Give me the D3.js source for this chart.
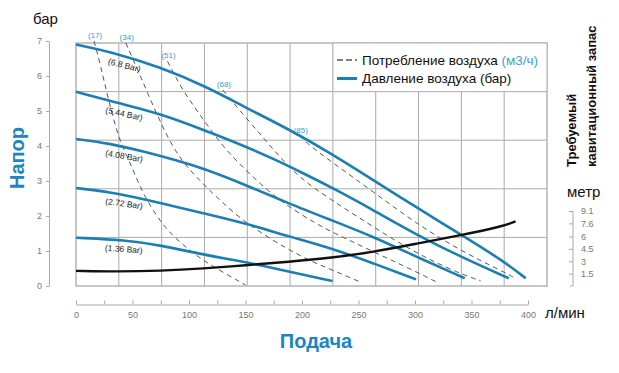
<!DOCTYPE html>
<html>
<head>
<meta charset="utf-8">
<script src="https://cdn.jsdelivr.net/npm/d3@7"></script>
<style>
  body { margin: 0; background: #fff; }
  svg { font-family: 'Liberation Sans', Arial, sans-serif; }
  .axis text { fill: #777; font-size: 9px; }
  .axis path, .axis line { stroke: #aaa; }
</style>
</head>
<body>
<div id="chart"></div>
<script>
// datos: [caudal l/min, valor]
var bar68 = [[0,6.9],[30,6.7],[75,6.25],[115,5.7],[150,5.1],[190,4.45],[225,3.8],[262,3.05],[301,2.25],[339,1.5],[378,0.72],[398,0.22]];
var bar544 = [[0,5.55],[38,5.22],[74,4.93],[113,4.46],[147,4.03],[177,3.6],[198,3.27],[226,2.82],[263,2.17],[301,1.47],[339,0.86],[383,0.22]];
var bar408 = [[0,4.2],[29,4.08],[60,3.84],[88,3.6],[113,3.36],[150,2.89],[188,2.36],[226,1.88],[263,1.41],[301,0.84],[344,0.22]];
var bar272 = [[0,2.8],[38,2.65],[74,2.37],[113,2.08],[150,1.79],[188,1.42],[226,1.08],[263,0.65],[301,0.19]];
var bar136 = [[0,1.38],[44,1.31],[74,1.17],[113,0.89],[150,0.69],[188,0.41],[227,0.14]];
var pressureSeries = [bar68, bar544, bar408, bar272, bar136];
var pressureLabels = ['(6.8 Bar)', '(5.44 Bar)', '(4.08 Bar)', '(2.72 Bar)', '(1.36 Bar)'];

// consumo de aire (m3/h)
var air17 = [[16,7.0],[22,6.27],[28,5.41],[38,4.17],[47,3.6],[60,2.55],[79.5,1.6],[100,1.03],[116,0.65],[150,0.03]];
var air34 = [[44,6.95],[56,6.08],[71,4.93],[88,3.79],[106,3.12],[127,2.46],[150,1.79],[188,1.03],[212,0.65],[226,0.47],[251,0.12]];
var air51 = [[81,6.42],[94,5.6],[113,4.74],[130,3.98],[150,3.31],[171,2.69],[188,2.27],[212,1.79],[226,1.55],[263,0.98],[301,0.41],[318.6,0.12]];
var air68 = [[130,5.6],[147,4.93],[165,4.27],[180,3.69],[200,3.03],[226,2.46],[263,1.69],[301,0.93],[339,0.36],[358,0.15]];
var air85 = [[198,4.3],[204,4.08],[226,3.55],[263,2.69],[301,1.79],[339,1.03],[378,0.41],[389,0.22]];
var airSeries = [air17, air34, air51, air68, air85];
var airLabels = ['(17)', '(34)', '(51)', '(68)', '(85)'];

// NPSH requerido (metros)
var npsh = [[0,1.84],[37,1.74],[74,1.84],[113,2.12],[150,2.52],[188,2.94],[226,3.42],[263,4.12],[301,5.13],[339,6.12],[378,7.25],[389,7.84]];

var xTicks = d3.range(0, 401, 25);
var yTicks = [0,1,2,3,4,5,6,7];
var mTicks = [1.5, 3, 4.5, 6, 7.6, 9.1];

var width = 619, height = 373;
var blue = '#1b7fb5';
var titleBlue = '#1a86c4';

var svg = d3.select('#chart').append('svg')
    .attr('width', width)
    .attr('height', height);

// escalas
var x = d3.scaleLinear().domain([0, 400]).range([76, 528]);
var y = d3.scaleLinear().domain([0, 7]).range([286, 41]);
var yM = d3.scaleLinear().domain([0, 9.1]).range([286, 211]);

var plotL = 76, plotR = 547, plotT = 43, plotB = 286;
var gx = d3.scaleLinear().domain([0, 11]).range([plotL, plotR]);
var gy = d3.scaleLinear().domain([0, 5]).range([plotB, plotT]);

// rejilla
svg.append('g').selectAll('line.v')
    .data(d3.range(1, 11))
    .enter().append('line')
    .attr('x1', d => gx(d)).attr('x2', d => gx(d))
    .attr('y1', plotT).attr('y2', plotB)
    .attr('stroke', '#aaa').attr('stroke-width', 1);

svg.append('g').selectAll('line.h')
    .data(d3.range(1, 5))
    .enter().append('line')
    .attr('x1', plotL).attr('x2', plotR)
    .attr('y1', d => gy(d)).attr('y2', d => gy(d))
    .attr('stroke', '#aaa').attr('stroke-width', 1);

svg.append('rect')
    .attr('x', plotL).attr('y', plotT)
    .attr('width', plotR - plotL).attr('height', plotB - plotT)
    .attr('fill', 'none').attr('stroke', '#b4b4b4').attr('stroke-width', 1.5);

// ejes
svg.append('g')
    .attr('class', 'axis')
    .attr('transform', 'translate(49,0)')
    .call(d3.axisLeft(y).tickValues(yTicks).tickFormat(d3.format('d'))
        .tickSizeInner(3).tickSizeOuter(0).tickPadding(4));

svg.append('g')
    .attr('class', 'axis')
    .attr('transform', 'translate(0,304.5)')
    .call(d3.axisBottom(x).tickValues(xTicks).tickSizeInner(-4).tickSizeOuter(0).tickPadding(7)
        .tickFormat(d => d % 50 === 0 ? d : ''));

svg.append('g')
    .attr('class', 'axis')
    .attr('transform', 'translate(573,0)')
    .call(d3.axisRight(yM).tickValues(mTicks).tickFormat(d => String(d))
        .tickSizeInner(-4).tickSizeOuter(0).tickPadding(8))
    .call(g => g.select('.domain').attr('d', 'M0,' + yM(9.1) + 'V' + yM(0) + 'h-3'));

// curva suavizada (los puntos se leyeron a mano)
var line = d3.line()
    .x(d => x(d[0]))
    .y(d => y(d[1]))
    .curve(d3.curveBasis);

// consumo de aire
svg.append('g').selectAll('path')
    .data(airSeries)
    .enter().append('path')
    .attr('d', line)
    .attr('fill', 'none')
    .attr('stroke', '#555')
    .attr('stroke-width', 1)
    .attr('stroke-dasharray', '5,4');

svg.append('g').selectAll('text')
    .data(airSeries)
    .enter().append('text')
    .attr('x', d => x(d[0][0]) + 1)
    .attr('y', d => y(d[0][1]) - 3)
    .attr('text-anchor', 'middle')
    .attr('fill', '#3a9bd2')
    .style('font-size', '8px')
    .text((d, i) => airLabels[i]);

// presion de aire
svg.append('g').selectAll('path')
    .data(pressureSeries)
    .enter().append('path')
    .attr('d', line)
    .attr('fill', 'none')
    .attr('stroke', blue)
    .attr('stroke-width', 2.6);

// NPSH
var lineM = d3.line()
    .x(d => x(d[0]))
    .y(d => yM(d[1]))
    .curve(d3.curveBasis);

svg.append('path')
    .datum(npsh)
    .attr('d', lineM)
    .attr('fill', 'none')
    .attr('stroke', '#111')
    .attr('stroke-width', 2.4);

// etiquetas de presion
var labelFlow = 43;
var labelAngle = [14, 12, 10, 8, 4];
function valueAt(series, f) {
    for (var k = 1; k < series.length; k++) {
        if (series[k][0] >= f) {
            var a = series[k - 1], b = series[k];
            return a[1] + (b[1] - a[1]) * (f - a[0]) / (b[0] - a[0]);
        }
    }
    return series[series.length - 1][1];
}
svg.append('g').selectAll('text')
    .data(pressureSeries)
    .enter().append('text')
    .attr('transform', (d, i) => 'translate(' + (x(labelFlow) - 1) + ',' + (y(valueAt(d, labelFlow)) + 12) + ') rotate(' + labelAngle[i] + ')')
    .attr('text-anchor', 'middle')
    .attr('fill', '#222')
    .style('font-size', '8.5px')
    .text((d, i) => pressureLabels[i]);

// leyenda
var lg = svg.append('g');
lg.append('rect')
    .attr('x', gx(6)).attr('y', plotT)
    .attr('width', plotR - gx(6)).attr('height', gy(4) - plotT)
    .attr('fill', '#fff').attr('stroke', '#b4b4b4').attr('stroke-width', 1);
lg.append('line')
    .attr('x1', 337).attr('x2', 357).attr('y1', 60).attr('y2', 60)
    .attr('stroke', '#555').attr('stroke-width', 1.5).attr('stroke-dasharray', '6,3');
lg.append('line')
    .attr('x1', 337).attr('x2', 357).attr('y1', 78.5).attr('y2', 78.5)
    .attr('stroke', blue).attr('stroke-width', 3);
var t1 = lg.append('text').attr('x', 362).attr('y', 64.5).style('font-size', '13.5px').attr('fill', '#111');
t1.append('tspan').text('Потребление воздуха ');
t1.append('tspan').attr('fill', '#3ba2da').text('(м3/ч)');
lg.append('text').attr('x', 362).attr('y', 82.5).style('font-size', '13.5px').attr('fill', '#111')
    .text('Давление воздуха (бар)');

// titulos
svg.append('text').attr('x', 33).attr('y', 24).style('font-size', '15px').attr('fill', '#111').text('бар');

svg.append('text')
    .attr('transform', 'translate(24,158) rotate(-90)')
    .attr('text-anchor', 'middle')
    .style('font-family', "'Liberation Sans Narrow', 'Liberation Sans', sans-serif")
    .style('font-weight', 'bold').style('font-size', '20px')
    .attr('fill', titleBlue)
    .text('Напор');

svg.append('text')
    .attr('x', 316).attr('y', 348)
    .attr('text-anchor', 'middle')
    .style('font-family', "'Liberation Sans Narrow', 'Liberation Sans', sans-serif")
    .style('font-weight', 'bold').style('font-size', '20px')
    .attr('fill', titleBlue)
    .text('Подача');

svg.append('text').attr('x', 545).attr('y', 318).style('font-size', '15px').attr('fill', '#111').text('л/мин');
svg.append('text').attr('x', 567).attr('y', 197).style('font-size', '15px').attr('fill', '#111').text('метр');

svg.append('text')
    .attr('transform', 'translate(576,167) rotate(-90)')
    .style('font-weight', 'bold').style('font-size', '13px').attr('fill', '#111')
    .text('Требуемый');
svg.append('text')
    .attr('transform', 'translate(596,167) rotate(-90)')
    .style('font-weight', 'bold').style('font-size', '13px').attr('fill', '#111')
    .text('кавитационный запас');
</script>
</body>
</html>
